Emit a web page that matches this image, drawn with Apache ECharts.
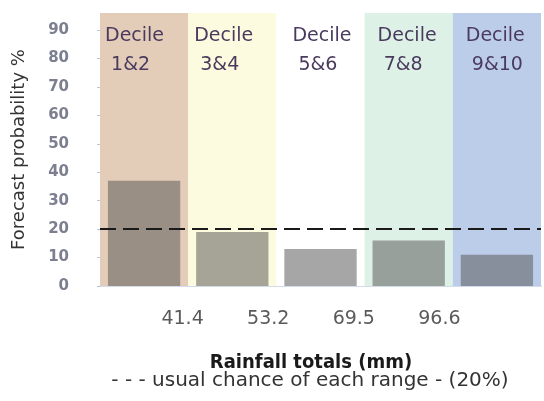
<!DOCTYPE html>
<html>
<head>
<meta charset="utf-8">
<script src="https://cdn.jsdelivr.net/npm/echarts@6/dist/echarts.min.js"></script>
<style>
html,body{margin:0;padding:0;background:#fff;}
#chart{width:544px;height:401px;}
</style>
</head>
<body>
<div id="chart"></div>
<script>
// ---- data ----
const deciles = ['1&2', '3&4', '5&6', '7&8', '9&10'];
const probabilities = [37, 19, 13, 16, 11];
const boundaryTotals = ['41.4', '53.2', '69.5', '96.6'];
const usualChance = 20;
const yTicks = [0, 10, 20, 30, 40, 50, 60, 70, 80, 90];
const yTop = 96;

// ---- styles ----
const bandColors = ['#e4cdb8', '#fdfbdf', '#ffffff', '#def1e7', '#bccde9'];
const labelDx = [5, 6, 16, 13, 13];
const FONT = 'DejaVu Sans';

const chart = echarts.init(document.getElementById('chart'), null, {renderer: 'canvas'});

const option = {
  backgroundColor: '#ffffff',
  animation: false,
  title: [
    {
      text: 'Rainfall totals (mm)',
      left: 311, top: 353, textAlign: 'center', padding: 0,
      textStyle: {fontFamily: 'DejaVu Sans Condensed, DejaVu Sans', fontWeight: 'bold', fontSize: 20, color: '#1a1a1a'}
    },
    {
      text: '- - - usual chance of each range - (' + usualChance + '%)',
      left: 310, top: 371, textAlign: 'center', padding: 0,
      textStyle: {fontFamily: FONT, fontWeight: 'normal', fontSize: 20, color: '#333333'}
    }
  ],
  grid: [
    {left: 100, right: 3, top: 13, bottom: 115, outerBoundsMode: 'none', containLabel: false},
    {left: 97, right: 19, top: 13, bottom: 115, outerBoundsMode: 'none', containLabel: false}
  ],
  xAxis: [
    {
      type: 'category', gridIndex: 0, data: deciles,
      axisLine: {show: true, lineStyle: {color: '#c3cfe2', width: 1.5}},
      axisTick: {show: false}, axisLabel: {show: false}, splitLine: {show: false}
    },
    {
      type: 'category', gridIndex: 0, data: deciles, show: false
    },
    {
      type: 'value', gridIndex: 1, min: 0, max: 5,
      axisLine: {show: false}, axisTick: {show: false}, splitLine: {show: false},
      axisLabel: {
        show: true, customValues: [1, 2, 3, 4], margin: 24,
        fontFamily: FONT, fontSize: 19, color: '#5a5a5a',
        formatter: v => boundaryTotals[v - 1] || ''
      }
    }
  ],
  yAxis: [
    {
      type: 'value', gridIndex: 0, min: 0, max: yTop,
      name: 'Forecast probability %', nameLocation: 'middle', nameGap: 72,
      nameTextStyle: {fontFamily: FONT, fontSize: 18, color: '#333333'},
      axisLine: {show: false},
      axisTick: {show: true, customValues: yTicks, length: 3, lineStyle: {color: '#b8c4d8'}},
      axisLabel: {customValues: yTicks, margin: 31, fontFamily: FONT, fontSize: 15, fontWeight: 'bold', color: '#7b7f8f'},
      splitLine: {show: false}
    },
    {
      type: 'value', gridIndex: 1, min: 0, max: yTop, show: false
    }
  ],
  series: [
    {
      type: 'bar', name: 'bands', xAxisIndex: 1, yAxisIndex: 0,
      barWidth: '100%', silent: true, z: 1,
      data: deciles.map((d, i) => ({
        value: yTop,
        itemStyle: {color: bandColors[i]},
        label: {position: [labelDx[i], 9]}
      })),
      label: {
        show: true, align: 'left', verticalAlign: 'top',
        fontFamily: FONT, fontSize: 19, lineHeight: 29, color: '#4a3b5e',
        formatter: p => 'Decile\n ' + p.name
      }
    },
    {
      type: 'bar', name: 'forecast', xAxisIndex: 0, yAxisIndex: 0,
      barWidth: '82%', z: 2,
      itemStyle: {color: 'rgba(90,90,90,0.54)'},
      data: probabilities,
      markLine: {
        silent: true, symbol: 'none',
        label: {show: false},
        lineStyle: {color: '#1a1a1a', width: 2, type: [16, 7]},
        data: [{yAxis: usualChance}]
      }
    }
  ]
};
chart.setOption(option);
</script>
</body>
</html>
